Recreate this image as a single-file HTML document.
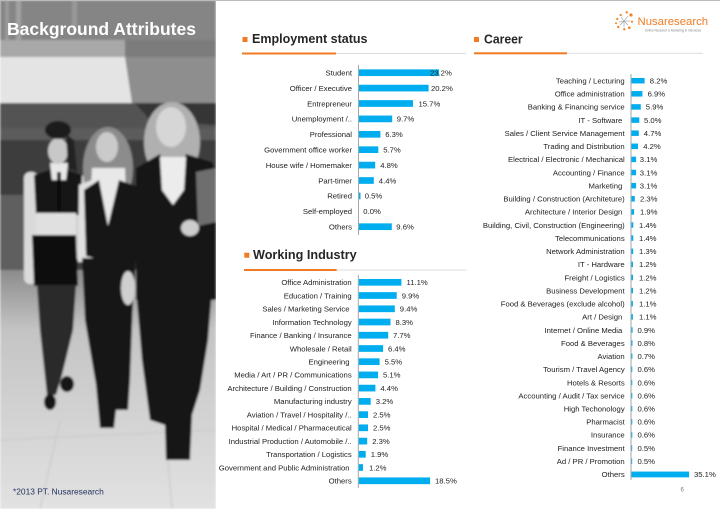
<!DOCTYPE html>
<html><head><meta charset="utf-8">
<style>
html,body{margin:0;padding:0;background:#fff;}
svg{display:block;}
text{font-family:"Liberation Sans",Arial,sans-serif;}
.l{font-size:7.7px;fill:#222;text-anchor:end;}
.v{font-size:7.7px;fill:#222;}
.t{font-size:12.5px;font-weight:bold;fill:#262626;}
</style></head>
<body>
<svg width="720" height="509" viewBox="0 0 720 509" xmlns="http://www.w3.org/2000/svg">
<defs>
<clipPath id="pc"><rect x="0" y="0" width="216" height="509"/></clipPath>
<filter id="bl" x="-5%" y="-5%" width="110%" height="110%"><feGaussianBlur stdDeviation="1.1"/></filter>
<linearGradient id="floor" x1="0" y1="0" x2="0" y2="1">
<stop offset="0" stop-color="#8c8c8c"/><stop offset="0.25" stop-color="#c4c4c4"/><stop offset="1" stop-color="#e2e2e2"/>
</linearGradient>
</defs>
<rect x="0" y="0" width="720" height="509" fill="#fff"/>

<!-- PHOTO -->
<g clip-path="url(#pc)">
<g filter="url(#bl)">
<rect x="0" y="0" width="216" height="509" fill="#d6d6d6"/>
<rect x="0" y="0" width="216" height="40" fill="#858585"/>
<rect x="5" y="0" width="4" height="40" fill="#9a9a9a"/>
<rect x="16" y="0" width="5" height="40" fill="#a2a2a2"/>
<rect x="72" y="0" width="5" height="30" fill="#999"/>
<rect x="0" y="40" width="125" height="17" fill="#a8a8a8"/>
<rect x="125" y="40" width="91" height="17" fill="#7c7c7c"/>
<polygon points="0,57 125,57 132,103 0,103" fill="#e4e4e4"/>
<polygon points="125,57 216,57 216,103 132,103" fill="#8e8e8e"/>
<rect x="0" y="103" width="216" height="40" fill="#525252"/>
<polygon points="135,103 216,103 216,125 150,120" fill="#343434"/>
<rect x="0" y="128" width="216" height="12" fill="#5c5c5c"/>
<rect x="0" y="140" width="216" height="135" fill="#3e3e3e"/>
<rect x="0" y="195" width="26" height="80" fill="#5e5e5e"/>
<rect x="0" y="270" width="216" height="239" fill="url(#floor)"/>
<line x1="0" y1="440" x2="216" y2="430" stroke="#c8c8c8" stroke-width="1"/>
<line x1="40" y1="509" x2="60" y2="420" stroke="#c6c6c6" stroke-width="1"/>
<line x1="172" y1="509" x2="168" y2="460" stroke="#c6c6c6" stroke-width="1"/>

<!-- Woman 1 (left) -->
<rect x="24" y="172" width="14" height="112" rx="6" fill="#dadada"/>
<rect x="75" y="175" width="11" height="85" rx="5" fill="#d0d0d0"/>
<polygon points="34,175 56,168 62,168 82,175 80,215 36,215" fill="#161616"/>
<polygon points="50,163 68,163 66,180 52,180" fill="#e8e8e8"/>
<rect x="57" y="172" width="4" height="43" fill="#111"/>
<rect x="36" y="213" width="40" height="24" fill="#e0e0e0"/>
<polygon points="32,235 76,235 78,286 34,286" fill="#111"/>
<polygon points="37,285 76,285 73,330 62,375 56,395 47,395 40,330" fill="#2a2a2a"/>
<ellipse cx="50" cy="402" rx="6" ry="8" fill="#151515"/>
<ellipse cx="67" cy="384" rx="7" ry="8" fill="#151515"/>
<ellipse cx="58" cy="151" rx="10" ry="13" fill="#c8c8c8"/>
<ellipse cx="58" cy="130" rx="13" ry="9" fill="#1a1a1a"/>
<polygon points="66,134 74,140 77,172 68,168" fill="#222"/>

<!-- Woman 2 (middle) -->
<ellipse cx="108" cy="168" rx="25" ry="41" fill="#8c8c8c"/>
<polygon points="79,185 92,180 93,262 78,262" fill="#e0e0e0"/>
<polygon points="92,168 125,168 128,252 88,252" fill="#e8e8e8"/>
<polygon points="84,190 99,180 108,226 119,180 136,186 137,258 110,262 86,256" fill="#141414"/>
<polygon points="82,258 136,258 133,300 130,380 128,410 116,410 114,428 100,428 96,385 85,320" fill="#151515"/>
<ellipse cx="107" cy="147" rx="11" ry="15" fill="#cacaca"/>
<ellipse cx="128" cy="288" rx="7" ry="17" fill="#cfcfcf"/>

<!-- Woman 3 (right) -->
<ellipse cx="172" cy="142" rx="28" ry="40" fill="#b0b0b0"/>
<polygon points="136,168 160,154 172,192 186,154 212,162 216,172 216,300 136,300" fill="#141414"/>
<polygon points="160,157 186,157 184,190 173,205 162,190" fill="#ececec"/>
<ellipse cx="171" cy="127" rx="15" ry="20" fill="#d6d6d6"/>
<polygon points="196,172 216,168 216,222 198,226" fill="#6e6e6e"/>
<ellipse cx="190" cy="228" rx="9" ry="8" fill="#cdcdcd"/>
<polygon points="136,290 212,290 208,340 200,390 192,415 190,460 166,460 165,425 150,420 142,360" fill="#121212"/>
</g>
<text x="7" y="35" font-size="17.5" font-weight="bold" fill="#fff">Background Attributes</text>
<text x="13" y="494.5" font-size="8.4" fill="#1f2f5c">*2013 PT. Nusaresearch</text>
</g>
<rect x="0" y="0" width="720" height="1" fill="#bbb"/>

<!-- LOGO -->
<g fill="#f58220">
<circle cx="620.7" cy="15" r="1.1"/><circle cx="626.7" cy="12.3" r="1.2"/><circle cx="631" cy="15" r="1.6"/>
<circle cx="617.3" cy="19" r="1.1"/><circle cx="616" cy="23.3" r="1"/><circle cx="618.3" cy="27" r="1.2"/>
<circle cx="624.3" cy="29.3" r="1.2"/><circle cx="629.3" cy="27.7" r="1.3"/><circle cx="632" cy="21.7" r="1.1"/>
</g>
<g stroke="#999" stroke-width="0.6">
<line x1="624" y1="21" x2="621" y2="17"/><line x1="624" y1="21" x2="628" y2="16"/><line x1="624" y1="21" x2="619" y2="22"/>
<line x1="624" y1="21" x2="620" y2="25"/><line x1="624" y1="21" x2="624" y2="27"/><line x1="624" y1="21" x2="628" y2="25"/><line x1="624" y1="21" x2="630" y2="21"/>
</g>
<text x="637.5" y="25" font-size="11.4" fill="#f07c24" textLength="70.6" lengthAdjust="spacingAndGlyphs">Nusaresearch</text>
<text x="645" y="31.5" font-size="3.2" fill="#888" textLength="56" lengthAdjust="spacingAndGlyphs">Online Research &amp; Marketing in Indonesia</text>
<text x="680.5" y="491.5" font-size="6" fill="#777">6</text>

<!-- EMPLOYMENT STATUS -->
<rect x="242.5" y="37" width="5" height="5" fill="#f07b22"/>
<text class="t" x="252" y="43" textLength="115.5" lengthAdjust="spacingAndGlyphs">Employment status</text>
<rect x="242" y="52.5" width="94" height="2" fill="#f07b22"/>
<rect x="336" y="53" width="130" height="1" fill="#dcdcdc"/>
<line x1="358.5" y1="65" x2="358.5" y2="235" stroke="#a6a6a6" stroke-width="1"/>
<g fill="#00aeef">
<rect x="359" y="69.35" width="80" height="6.7"/>
<rect x="359" y="84.75" width="69.6" height="6.7"/>
<rect x="359" y="100.15" width="54" height="6.7"/>
<rect x="359" y="115.55" width="33.2" height="6.7"/>
<rect x="359" y="130.95" width="21.4" height="6.7"/>
<rect x="359" y="146.35" width="19.3" height="6.7"/>
<rect x="359" y="161.75" width="16.2" height="6.7"/>
<rect x="359" y="177.15" width="14.8" height="6.7"/>
<rect x="359" y="192.55" width="1.5" height="6.7"/>
<rect x="359" y="223.35" width="32.8" height="6.7"/>
</g>
<text class="l" x="352" y="75.5">Student</text>
<text class="l" x="352" y="90.9">Officer / Executive</text>
<text class="l" x="352" y="106.3">Entrepreneur</text>
<text class="l" x="352" y="121.7">Unemployment /..</text>
<text class="l" x="352" y="137.1">Professional</text>
<text class="l" x="352" y="152.5">Government office worker</text>
<text class="l" x="352" y="167.9">House wife / Homemaker</text>
<text class="l" x="352" y="183.3">Part-timer</text>
<text class="l" x="352" y="198.7">Retired</text>
<text class="l" x="352" y="214.1">Self-employed</text>
<text class="l" x="352" y="229.5">Others</text>
<text class="v" x="430" y="75.5">23.2%</text>
<text class="v" x="431" y="90.9">20.2%</text>
<text class="v" x="418.5" y="106.3">15.7%</text>
<text class="v" x="396.7" y="121.7">9.7%</text>
<text class="v" x="385.2" y="137.1">6.3%</text>
<text class="v" x="383.2" y="152.5">5.7%</text>
<text class="v" x="380.2" y="167.9">4.8%</text>
<text class="v" x="378.8" y="183.3">4.4%</text>
<text class="v" x="364.7" y="198.7">0.5%</text>
<text class="v" x="363.3" y="214.1">0.0%</text>
<text class="v" x="396.3" y="229.5">9.6%</text>

<!-- WORKING INDUSTRY -->
<rect x="244.3" y="252.7" width="5" height="5" fill="#f07b22"/>
<text class="t" x="253" y="259" textLength="103.7" lengthAdjust="spacingAndGlyphs">Working Industry</text>
<rect x="244" y="269" width="92.7" height="2" fill="#f07b22"/>
<rect x="336.7" y="269.5" width="130" height="1" fill="#dcdcdc"/>
<line x1="358.3" y1="275" x2="358.3" y2="488" stroke="#a6a6a6" stroke-width="1"/>
<g fill="#00aeef">
<rect x="358.8" y="278.95" width="42.6" height="6.7"/>
<rect x="358.8" y="292.15" width="37.9" height="6.7"/>
<rect x="358.8" y="305.45" width="36" height="6.7"/>
<rect x="358.8" y="318.65" width="31.7" height="6.7"/>
<rect x="358.8" y="331.85" width="29.4" height="6.7"/>
<rect x="358.8" y="345.15" width="24.3" height="6.7"/>
<rect x="358.8" y="358.35" width="20.8" height="6.7"/>
<rect x="358.8" y="371.55" width="19.3" height="6.7"/>
<rect x="358.8" y="384.75" width="16.6" height="6.7"/>
<rect x="358.8" y="398.05" width="11.9" height="6.7"/>
<rect x="358.8" y="411.25" width="9.2" height="6.7"/>
<rect x="358.8" y="424.45" width="9.2" height="6.7"/>
<rect x="358.8" y="437.75" width="8.4" height="6.7"/>
<rect x="358.8" y="450.95" width="6.9" height="6.7"/>
<rect x="358.8" y="464.15" width="4.2" height="6.7"/>
<rect x="358.8" y="477.45" width="71.3" height="6.7"/>
</g>
<text class="l" x="351.7" y="285.1">Office Administration</text>
<text class="l" x="351.7" y="298.3">Education / Training</text>
<text class="l" x="349.5" y="311.6">Sales / Marketing Service</text>
<text class="l" x="351.7" y="324.8">Information Technology</text>
<text class="l" x="351.7" y="338">Finance / Banking / Insurance</text>
<text class="l" x="351.7" y="351.3">Wholesale / Retail</text>
<text class="l" x="349.5" y="364.5">Engineering</text>
<text class="l" x="351.7" y="377.7">Media / Art / PR / Communications</text>
<text class="l" x="351.7" y="390.9">Architecture / Building / Construction</text>
<text class="l" x="351.7" y="404.2">Manufacturing industry</text>
<text class="l" x="351.7" y="417.4">Aviation / Travel / Hospitality /..</text>
<text class="l" x="351.7" y="430.6">Hospital / Medical / Pharmaceutical</text>
<text class="l" x="351.7" y="443.9">Industrial Production / Automobile /..</text>
<text class="l" x="351.7" y="457.1">Transportation / Logistics</text>
<text class="l" x="349.5" y="470.3">Government and Public Administration</text>
<text class="l" x="351.7" y="483.6">Others</text>
<text class="v" x="406.5" y="285.1">11.1%</text>
<text class="v" x="401.7" y="298.3">9.9%</text>
<text class="v" x="399.8" y="311.6">9.4%</text>
<text class="v" x="395.5" y="324.8">8.3%</text>
<text class="v" x="393" y="338">7.7%</text>
<text class="v" x="388" y="351.3">6.4%</text>
<text class="v" x="384.6" y="364.5">5.5%</text>
<text class="v" x="383" y="377.7">5.1%</text>
<text class="v" x="380.4" y="390.9">4.4%</text>
<text class="v" x="375.7" y="404.2">3.2%</text>
<text class="v" x="373" y="417.4">2.5%</text>
<text class="v" x="373" y="430.6">2.5%</text>
<text class="v" x="372.2" y="443.9">2.3%</text>
<text class="v" x="370.7" y="457.1">1.9%</text>
<text class="v" x="369" y="470.3">1.2%</text>
<text class="v" x="435" y="483.6">18.5%</text>

<!-- CAREER -->
<rect x="474" y="37" width="5" height="5" fill="#f07b22"/>
<text class="t" x="484" y="43.3" textLength="38.7" lengthAdjust="spacingAndGlyphs">Career</text>
<rect x="474" y="52.3" width="93" height="2" fill="#f07b22"/>
<rect x="567" y="52.8" width="136" height="1" fill="#dcdcdc"/>
<line x1="631" y1="74" x2="631" y2="480" stroke="#a6a6a6" stroke-width="1"/>
<g fill="#00aeef">
<rect x="631.5" y="77.95" width="13.1" height="5.5"/>
<rect x="631.5" y="91.05" width="10.9" height="5.5"/>
<rect x="631.5" y="104.15" width="9.3" height="5.5"/>
<rect x="631.5" y="117.35" width="7.8" height="5.5"/>
<rect x="631.5" y="130.45" width="7.3" height="5.5"/>
<rect x="631.5" y="143.55" width="6.5" height="5.5"/>
<rect x="631.5" y="156.65" width="4.6" height="5.5"/>
<rect x="631.5" y="169.75" width="4.6" height="5.5"/>
<rect x="631.5" y="182.95" width="4.6" height="5.5"/>
<rect x="631.5" y="196.05" width="3.3" height="5.5"/>
<rect x="631.5" y="209.15" width="2.6" height="5.5"/>
<rect x="631.5" y="222.25" width="1.8" height="5.5"/>
<rect x="631.5" y="235.35" width="1.8" height="5.5"/>
<rect x="631.5" y="248.55" width="1.7" height="5.5"/>
<rect x="631.5" y="261.65" width="1.5" height="5.5"/>
<rect x="631.5" y="274.75" width="1.5" height="5.5"/>
<rect x="631.5" y="287.85" width="1.5" height="5.5"/>
<rect x="631.5" y="300.95" width="1.4" height="5.5"/>
<rect x="631.5" y="314.15" width="1.4" height="5.5"/>
<rect x="631.5" y="327.25" width="1.1" height="5.5"/>
<rect x="631.5" y="340.35" width="1" height="5.5"/>
<rect x="631.5" y="353.45" width="0.9" height="5.5"/>
<rect x="631.5" y="366.55" width="0.8" height="5.5"/>
<rect x="631.5" y="379.75" width="0.8" height="5.5"/>
<rect x="631.5" y="392.85" width="0.8" height="5.5"/>
<rect x="631.5" y="405.95" width="0.8" height="5.5"/>
<rect x="631.5" y="419.05" width="0.8" height="5.5"/>
<rect x="631.5" y="432.15" width="0.8" height="5.5"/>
<rect x="631.5" y="445.35" width="0.7" height="5.5"/>
<rect x="631.5" y="458.45" width="0.7" height="5.5"/>
<rect x="631.5" y="471.55" width="57.6" height="5.8"/>
</g>
<text class="l" x="624.7" y="83.5">Teaching / Lecturing</text>
<text class="l" x="624.7" y="96.6">Office administration</text>
<text class="l" x="624.7" y="109.7">Banking &amp; Financing service</text>
<text class="l" x="622.3" y="122.9">IT - Software</text>
<text class="l" x="624.7" y="136">Sales / Client Service Management</text>
<text class="l" x="624.7" y="149.1">Trading and Distribution</text>
<text class="l" x="624.7" y="162.2">Electrical / Electronic / Mechanical</text>
<text class="l" x="624.7" y="175.3">Accounting / Finance</text>
<text class="l" x="622.3" y="188.5">Marketing</text>
<text class="l" x="624.7" y="201.6">Building / Construction (Architeture)</text>
<text class="l" x="622.3" y="214.7">Architecture / Interior Design</text>
<text class="l" x="624.7" y="227.8">Building, Civil, Construction (Engineering)</text>
<text class="l" x="624.7" y="240.9">Telecommunications</text>
<text class="l" x="624.7" y="254.1">Network Administration</text>
<text class="l" x="624.7" y="267.2">IT - Hardware</text>
<text class="l" x="624.7" y="280.3">Freight / Logistics</text>
<text class="l" x="624.7" y="293.4">Business Development</text>
<text class="l" x="624.7" y="306.5">Food &amp; Beverages (exclude alcohol)</text>
<text class="l" x="622.3" y="319.7">Art / Design</text>
<text class="l" x="622.3" y="332.8">Internet / Online Media</text>
<text class="l" x="624.7" y="345.9">Food &amp; Beverages</text>
<text class="l" x="624.7" y="359">Aviation</text>
<text class="l" x="624.7" y="372.1">Tourism / Travel Agency</text>
<text class="l" x="624.7" y="385.3">Hotels &amp; Resorts</text>
<text class="l" x="624.7" y="398.4">Accounting / Audit / Tax service</text>
<text class="l" x="624.7" y="411.5">High Techonology</text>
<text class="l" x="624.7" y="424.6">Pharmacist</text>
<text class="l" x="624.7" y="437.7">Insurance</text>
<text class="l" x="624.7" y="450.9">Finance Investment</text>
<text class="l" x="624.7" y="464">Ad / PR / Promotion</text>
<text class="l" x="624.7" y="477.1">Others</text>
<text class="v" x="649.8" y="83.5">8.2%</text>
<text class="v" x="647.6" y="96.6">6.9%</text>
<text class="v" x="645.8" y="109.7">5.9%</text>
<text class="v" x="644" y="122.9">5.0%</text>
<text class="v" x="643.8" y="136">4.7%</text>
<text class="v" x="643.2" y="149.1">4.2%</text>
<text class="v" x="639.8" y="162.2">3.1%</text>
<text class="v" x="639.8" y="175.3">3.1%</text>
<text class="v" x="639.8" y="188.5">3.1%</text>
<text class="v" x="640" y="201.6">2.3%</text>
<text class="v" x="640" y="214.7">1.9%</text>
<text class="v" x="639" y="227.8">1.4%</text>
<text class="v" x="639" y="240.9">1.4%</text>
<text class="v" x="639" y="254.1">1.3%</text>
<text class="v" x="639" y="267.2">1.2%</text>
<text class="v" x="639" y="280.3">1.2%</text>
<text class="v" x="639" y="293.4">1.2%</text>
<text class="v" x="639" y="306.5">1.1%</text>
<text class="v" x="639" y="319.7">1.1%</text>
<text class="v" x="637.5" y="332.8">0.9%</text>
<text class="v" x="637.5" y="345.9">0.8%</text>
<text class="v" x="637.5" y="359">0.7%</text>
<text class="v" x="637.5" y="372.1">0.6%</text>
<text class="v" x="637.5" y="385.3">0.6%</text>
<text class="v" x="637.5" y="398.4">0.6%</text>
<text class="v" x="637.5" y="411.5">0.6%</text>
<text class="v" x="637.5" y="424.6">0.6%</text>
<text class="v" x="637.5" y="437.7">0.6%</text>
<text class="v" x="637.5" y="450.9">0.5%</text>
<text class="v" x="637.5" y="464">0.5%</text>
<text class="v" x="694" y="477.1">35.1%</text>
</svg>
</body></html>
